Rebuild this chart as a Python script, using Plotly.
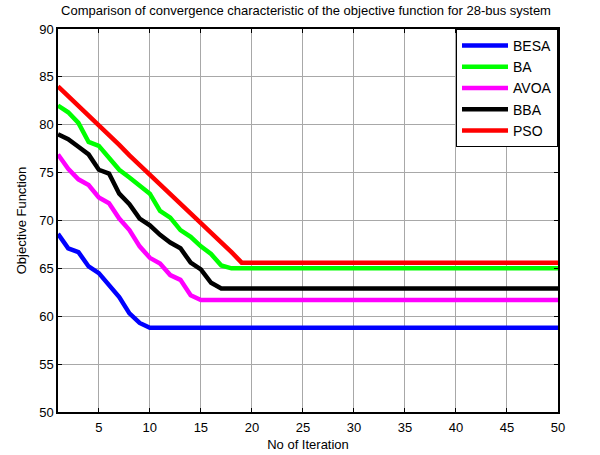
import plotly.graph_objects as go

iterations = list(range(1, 51))

besa_head = [68.6, 67.1, 66.7, 65.2, 64.5, 63.3, 62.0, 60.3, 59.3, 58.8]
besa_final = 58.8
ba_head = [82.0, 81.3, 80.2, 78.2, 77.8, 76.6, 75.3, 74.5, 73.7, 72.8,
           71.0, 70.3, 69.0, 68.3, 67.3, 66.5, 65.3, 65.0]
ba_final = 65.0
avoa_head = [76.9, 75.4, 74.3, 73.7, 72.4, 71.8, 70.2, 69.0, 67.3, 66.1,
             65.5, 64.3, 63.8, 62.2, 61.7]
avoa_final = 61.7
bba_head = [79.0, 78.5, 77.7, 76.9, 75.3, 74.9, 72.8, 71.7, 70.2, 69.5,
            68.5, 67.7, 67.1, 65.6, 64.9, 63.5, 62.9]
bba_final = 62.9
pso_head = [84.0, 83.0, 82.0, 81.0, 80.0, 79.0, 77.9, 76.8, 75.8, 74.8,
            73.8, 72.8, 71.8, 70.8, 69.8, 68.7, 67.7, 66.7, 65.6]
pso_final = 65.6


def full(head, final):
    return head + [final] * (len(iterations) - len(head))


series = [
    ("BESA", full(besa_head, besa_final), "#0000ff"),
    ("BA", full(ba_head, ba_final), "#00ff00"),
    ("AVOA", full(avoa_head, avoa_final), "#ff00ff"),
    ("BBA", full(bba_head, bba_final), "#000000"),
    ("PSO", full(pso_head, pso_final), "#ff0000"),
]

x_ticks = [5, 10, 15, 20, 25, 30, 35, 40, 45, 50]
y_ticks = [50, 55, 60, 65, 70, 75, 80, 85, 90]

fig = go.Figure()
for name, vals, color in series:
    fig.add_trace(go.Scatter(x=iterations, y=vals, mode="lines", name=name,
                             line=dict(color=color, width=4.5)))

axis_common = dict(
    showline=True, linecolor="black", linewidth=1.5, mirror="ticks",
    ticks="inside", ticklen=4, tickcolor="black",
    showgrid=True, gridcolor="#a8a8a8", gridwidth=1, zeroline=False,
    tickfont=dict(family="Arial, Liberation Sans", size=13, color="black"),
)

fig.update_layout(
    width=600, height=455,
    margin=dict(l=58, r=42, t=29, b=43, autoexpand=False),
    paper_bgcolor="white", plot_bgcolor="white",
    font=dict(family="Arial, Liberation Sans", color="black"),
    title=dict(text="Comparison of convergence characteristic of the objective function for 28-bus system",
               x=0.51, xanchor="center", y=0.976, yanchor="middle",
               font=dict(size=13, color="black")),
    xaxis=dict(range=[1, 50], tickvals=x_ticks, ticklabelstandoff=3,
               title=dict(text="No of Iteration", font=dict(size=13), standoff=6),
               **axis_common),
    yaxis=dict(range=[50, 90], tickvals=y_ticks,
               title=dict(text="Objective Function", font=dict(size=13), standoff=10),
               **axis_common),
    legend=dict(x=1, xanchor="right", y=1, yanchor="top", itemwidth=46,
                bgcolor="white", bordercolor="black", borderwidth=1,
                font=dict(size=14, color="black"), tracegroupgap=0),
    showlegend=True,
)

fig.write_html("out.html", config={"displayModeBar": False},
               post_script="document.body.style.margin='0';")
